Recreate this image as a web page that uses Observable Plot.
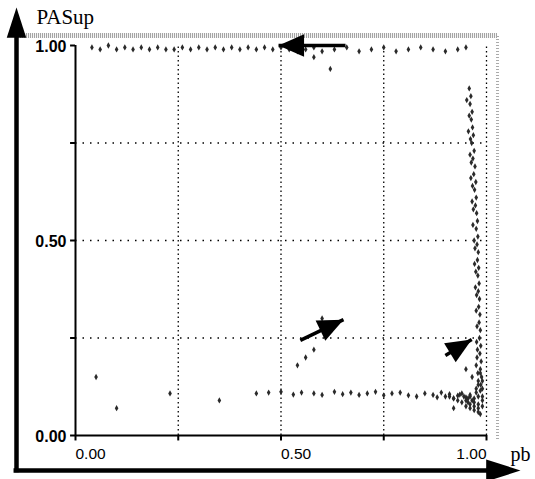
<!DOCTYPE html>
<html>
<head>
<meta charset="utf-8">
<script src="https://cdn.jsdelivr.net/npm/d3@7"></script>
<script src="https://cdn.jsdelivr.net/npm/@observablehq/plot@0.6"></script>
<style>
  html, body { margin: 0; padding: 0; background: #fff; }
  #chart svg { display: block; }
</style>
</head>
<body>
<div id="chart"></div>
<script>
// ---- data ----
const xTickValues = [0, 0.5, 1];
const xTickLabels = ["0.00", "0.50", "1.00"];
const yTickValues = [0, 0.5, 1];
const yTickLabels = ["0.00", "0.50", "1.00"];
const gridValues = [0.25, 0.5, 0.75];
const xLabel = "pb";
const yLabel = "PASup";

// band of points along PASup ≈ 1
const topX = [0.04,0.06,0.08,0.10,0.12,0.14,0.16,0.18,0.20,0.22,0.24,0.26,0.28,0.30,0.32,0.34,0.36,0.38,0.40,0.42,0.44,0.46,0.48,0.50,0.52,0.54,0.56,0.58,0.60,0.63,0.66,0.69,0.72,0.75,0.78,0.81,0.84,0.87,0.90,0.93,0.95];
const topY = [0.995,0.99,1.0,0.99,0.995,0.99,0.995,0.99,0.995,0.99,0.99,0.995,0.99,0.995,0.99,0.995,0.99,0.995,0.99,0.995,0.99,0.995,0.99,0.995,0.99,0.985,0.99,0.995,0.985,0.99,0.995,0.985,0.99,0.995,0.985,0.99,0.995,0.99,0.985,0.99,0.995];

// vertical band near pb ≈ 0.97 (two ragged edges)
const vertX = [0.958,0.962,0.960,0.965,0.963,0.966,0.968,0.964,0.970,0.967,0.972,0.969,0.974,0.971,0.975,0.973,0.976,0.978,0.975,0.979,0.977,0.980,0.978,0.981,0.979,0.982,0.980,0.983,0.981,0.984,0.982,0.985,0.983,0.986,0.984,0.987,0.985,0.988,0.986];
const vertY = [0.89,0.87,0.85,0.83,0.81,0.79,0.77,0.75,0.73,0.71,0.69,0.67,0.65,0.63,0.61,0.59,0.57,0.55,0.53,0.51,0.49,0.47,0.45,0.43,0.41,0.39,0.37,0.35,0.33,0.31,0.29,0.27,0.25,0.23,0.21,0.19,0.17,0.15,0.13];
const vert2X = [0.952,0.958,0.956,0.961,0.960,0.963,0.962,0.966,0.965,0.968,0.967,0.970,0.972,0.971,0.974,0.973,0.976,0.975,0.977,0.976,0.978,0.977,0.979,0.980];
const vert2Y = [0.86,0.82,0.78,0.76,0.72,0.70,0.66,0.64,0.60,0.58,0.54,0.50,0.48,0.44,0.42,0.38,0.36,0.32,0.28,0.24,0.22,0.20,0.16,0.14];

// horizontal band near PASup ≈ 0.11
const horzX = [0.44,0.47,0.50,0.53,0.55,0.58,0.60,0.63,0.65,0.67,0.69,0.71,0.73,0.75,0.77,0.79,0.81,0.83,0.85,0.87,0.88,0.89,0.90,0.91,0.92,0.93,0.94,0.95,0.96];
const horzY = [0.108,0.11,0.112,0.105,0.11,0.108,0.104,0.112,0.106,0.11,0.104,0.108,0.112,0.103,0.108,0.11,0.103,0.10,0.108,0.104,0.098,0.11,0.10,0.106,0.095,0.102,0.108,0.098,0.104];

// dense cluster at the corner
const clusterX = [0.93,0.94,0.95,0.96,0.97,0.98,0.99,0.95,0.96,0.97,0.98,0.99,0.96,0.97,0.98,0.99,0.97,0.98,0.985,0.975,0.98,0.99,0.985,0.975,0.95,0.965,0.91,0.92,0.935,0.945,0.955,0.975,0.985,0.99,0.965,0.955];
const clusterY = [0.09,0.085,0.09,0.08,0.085,0.08,0.09,0.075,0.07,0.075,0.07,0.075,0.10,0.095,0.10,0.10,0.065,0.06,0.055,0.12,0.13,0.14,0.16,0.18,0.17,0.15,0.10,0.095,0.105,0.10,0.095,0.11,0.115,0.12,0.09,0.085];

// sparse scattered points
const sparseX = [0.58,0.56,0.05,0.23,0.10,0.58,0.62,0.54,0.35,0.92,0.60];
const sparseY = [0.22,0.20,0.15,0.108,0.07,0.97,0.94,0.18,0.09,0.07,0.30];

// annotation arrows (tail -> tip)
const arrowTailX = [0.657, 0.547, 0.900];
const arrowTailY = [1.0, 0.244, 0.205];
const arrowTipX = [0.494, 0.652, 0.964];
const arrowTipY = [1.0, 0.297, 0.246];

// ---- build ----
const W = 535, H = 479;
const mL = 75, mR = 49, mT = 45, mB = 44;
const pxX = (W - mL - mR), pxY = (H - mT - mB);

const toPts = (xs, ys) => xs.map((x, i) => ({x, y: ys[i]}));
const points = [
  ...toPts(topX, topY),
  ...toPts(vertX, vertY),
  ...toPts(vert2X, vert2Y),
  ...toPts(horzX, horzY),
  ...toPts(clusterX, clusterY),
  ...toPts(sparseX, sparseY)
];

const arrows = arrowTailX.map((x1, i) => {
  const x2 = arrowTipX[i], y1 = arrowTailY[i], y2 = arrowTipY[i];
  const dx = (x2 - x1) * pxX, dy = -(y2 - y1) * pxY;
  return {x1, y1, x2, y2, angle: Math.atan2(dx, -dy) * 180 / Math.PI};
});

// arrow heads with their tip at the origin, pointing up
const makeHead = (len, half) => ({
  draw(ctx, size) {
    const s = Math.sqrt(size);
    ctx.moveTo(0, 0);
    ctx.lineTo(s * half, s * len);
    ctx.lineTo(-s * half, s * len);
    ctx.closePath();
  }
});
const noteHead = makeHead(1.6, 0.7);
const axisHead = makeHead(1.55, 0.5);

// outer (decorative) axis positions in data units, derived from the scale
const outerX = -(mL - 16) / pxX;       // left big axis
const outerY = -(470 - (H - mB)) / pxY; // bottom big axis
const outerTop = 1 + (mT - 7) / pxY;
const outerRight = 1 + (520 - (W - mR)) / pxX;
const grayTop = 1 + (mT - 35) / pxY;
const grayRight = 1 + (497 - (W - mR)) / pxX;
const allTicks = [0, ...gridValues, 1];

const chart = Plot.plot({
  width: W,
  height: H,
  marginLeft: mL,
  marginRight: mR,
  marginTop: mT,
  marginBottom: mB,
  x: {type: "linear", domain: [0, 1], axis: null},
  y: {type: "linear", domain: [0, 1], axis: null},
  style: {background: "#fff", overflow: "visible"},
  marks: [
    // scan-like gray frame
    Plot.ruleY([grayTop], {x1: outerX + 0.01, x2: grayRight, stroke: "#999", strokeWidth: 5, strokeDasharray: "1,1"}),
    Plot.ruleX([grayRight], {y1: -0.01, y2: grayTop, stroke: "#aaa", strokeWidth: 3, strokeDasharray: "1,2"}),
    // dotted grid
    Plot.ruleY(gridValues, {x1: 0, x2: 1, stroke: "#000", strokeWidth: 1.3, strokeDasharray: "1.5,6"}),
    Plot.ruleX([...gridValues, 1], {y1: 0, y2: 1, stroke: "#000", strokeWidth: 1.3, strokeDasharray: "1.5,3"}),
    // frame (left & bottom)
    Plot.ruleX([0], {y1: 0, y2: 1, stroke: "#000", strokeWidth: 2}),
    Plot.ruleY([0], {x1: 0, x2: 1, stroke: "#000", strokeWidth: 2}),
    // ticks
    Plot.ruleX(allTicks, {y1: 0, y2: -0.014, stroke: "#000", strokeWidth: 2}),
    Plot.ruleY(allTicks, {x1: -0.012, x2: 0, stroke: "#000", strokeWidth: 2}),
    // data points
    Plot.dot(points, {x: "x", y: "y", symbol: "diamond", r: 1.9, fill: "#2a2a2a", stroke: "none"}),
    // annotation arrows
    Plot.link(arrows, {x1: "x1", y1: "y1", x2: "x2", y2: "y2", stroke: "#000", strokeWidth: 3.5}),
    Plot.dot(arrows, {x: "x2", y: "y2", symbol: noteHead, r: 9, fill: "#000", stroke: "none", rotate: "angle"}),
    // tick labels
    Plot.text(xTickValues.slice(0, 2), {x: d => d, y: () => 0, text: (d, i) => xTickLabels[i], dy: 19, textAnchor: "start", fontSize: 15.5, fontFamily: "Liberation Sans", fill: "#000"}),
    Plot.text(xTickValues.slice(2), {x: d => d, y: () => 0, text: (d, i) => xTickLabels[2 + i], dy: 19, textAnchor: "end", fontSize: 15.5, fontFamily: "Liberation Sans", fill: "#000"}),
    Plot.text(yTickValues, {x: () => 0, y: d => d, text: (d, i) => yTickLabels[i], dx: -9, dy: 1, textAnchor: "end", fontSize: 16, fontWeight: "bold", fontFamily: "Liberation Sans", fill: "#000"}),
    // big outer axes
    Plot.ruleX([outerX], {y1: outerY - 0.006, y2: outerTop - 0.04, stroke: "#000", strokeWidth: 4.5}),
    Plot.ruleY([outerY], {x1: outerX - 0.006, x2: outerRight - 0.04, stroke: "#000", strokeWidth: 4.5}),
    Plot.dot([{x: outerX, y: outerTop, a: 0}], {x: "x", y: "y", symbol: axisHead, r: 11, fill: "#000", stroke: "none", rotate: "a"}),
    Plot.dot([{x: outerRight, y: outerY, a: 90}], {x: "x", y: "y", symbol: axisHead, r: 12.5, fill: "#000", stroke: "none", rotate: "a"}),
    // axis titles
    Plot.text([yLabel], {x: () => outerX, y: () => outerTop, text: d => d, dx: 20, dy: 10, textAnchor: "start", fontSize: 21, fontFamily: "Liberation Serif", fill: "#000"}),
    Plot.text([xLabel], {x: () => 1, y: () => 0, text: d => d, dx: 24, dy: 19, textAnchor: "start", fontSize: 20, fontFamily: "Liberation Serif", fill: "#000"})
  ]
});

document.getElementById("chart").appendChild(chart);
</script>
</body>
</html>
